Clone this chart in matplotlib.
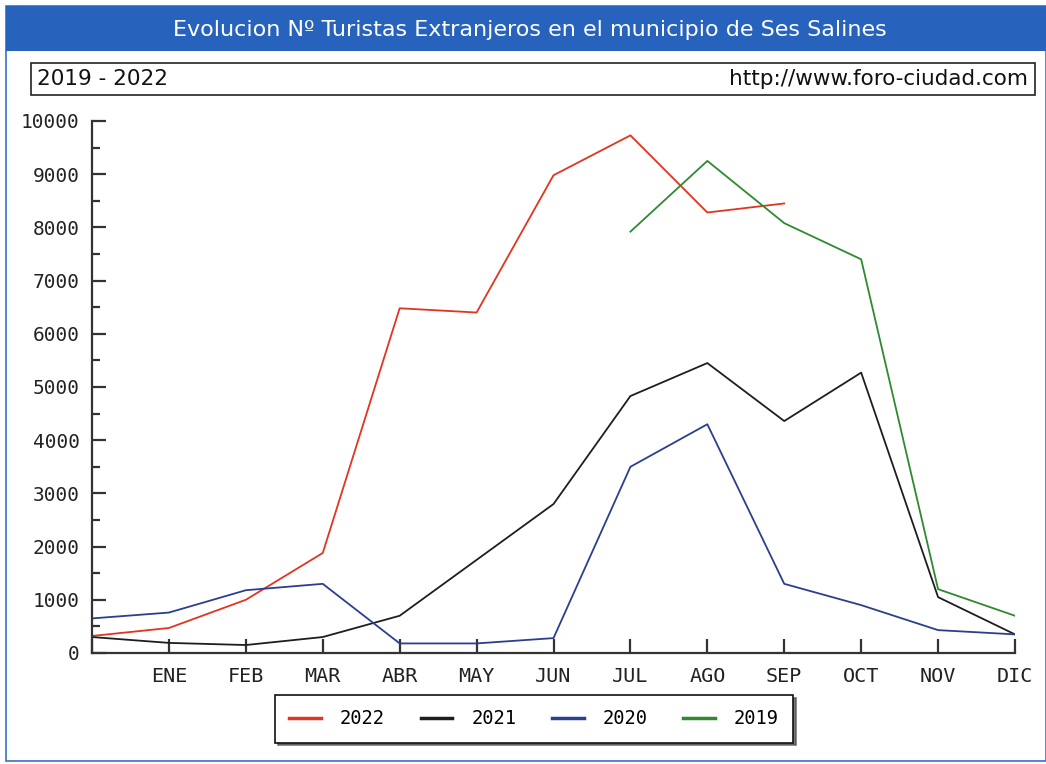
import matplotlib
matplotlib.use("Agg")
import matplotlib.pyplot as plt
from matplotlib.patches import Rectangle
from matplotlib.ticker import MultipleLocator
import numpy as np

months = ['', 'ENE', 'FEB', 'MAR', 'ABR', 'MAY', 'JUN', 'JUL', 'AGO', 'SEP', 'OCT', 'NOV', 'DIC']
v2022 = [320, 470, 1000, 1880, 6480, 6400, 8980, 9730, 8280, 8450, None, None, None]
v2021 = [300, 190, 150, 300, 700, 1750, 2800, 4830, 5450, 4360, 5270, 1050, 350]
v2020 = [650, 760, 1180, 1300, 180, 180, 280, 3500, 4300, 1300, 900, 430, 350]
v2019 = [None, None, None, None, None, None, None, 7920, 9250, 8080, 7400, 1200, 700]
series = [('2022', v2022, '#e2341f'), ('2021', v2021, '#1e1e1e'),
          ('2020', v2020, '#2b3f8e'), ('2019', v2019, '#2f8a2f')]

W, H = 1046, 764
fig = plt.figure(figsize=(W / 100, H / 100), dpi=100)
fig.patch.set_facecolor('white')

def fx(px):
    return px / W

def fy(py):
    return 1 - py / H

# outer blue frame
fig.add_artist(Rectangle((fx(6), fy(761)), 1 - fx(6), fy(6) - fy(761),
                         transform=fig.transFigure, fill=False, edgecolor='#3a6fc8', linewidth=1.2))
# title bar
fig.add_artist(Rectangle((fx(6), fy(51)), 1 - fx(6), fy(6) - fy(51), transform=fig.transFigure,
                         facecolor='#2763bd', edgecolor='none'))
fig.text(fx(530), fy(30), 'Evolucion Nº Turistas Extranjeros en el municipio de Ses Salines',
         color='white', fontsize=16, ha='center', va='center', family='DejaVu Sans')
# subtitle box
fig.add_artist(Rectangle((fx(31), fy(95)), fx(1035 - 31), fy(63) - fy(95), transform=fig.transFigure,
                         facecolor='white', edgecolor='#222222', linewidth=1.2))
fig.text(fx(37), fy(79), '2019 - 2022', color='#111111', fontsize=15.5, ha='left', va='center',
         family='DejaVu Sans')
fig.text(fx(1028), fy(79), 'http://www.foro-ciudad.com', color='#111111', fontsize=15.5,
         ha='right', va='center', family='DejaVu Sans')

ax = fig.add_axes([fx(92), fy(653), fx(1015 - 92), fy(121) - fy(653)])
x = np.arange(len(months))
handles = []
for name, vals, col in series:
    y = np.array([np.nan if v is None else v for v in vals], dtype=float)
    h, = ax.plot(x, y, color=col, linewidth=1.3, label=name)
    handles.append(h)

ax.set_xlim(0, 12)
ax.set_ylim(0, 10000)
ax.set_xticks(x)
ax.set_xticklabels(months)
ax.yaxis.set_major_locator(MultipleLocator(1000))
ax.yaxis.set_minor_locator(MultipleLocator(500))
for s in ['top', 'right']:
    ax.spines[s].set_visible(False)
for s in ['left', 'bottom']:
    ax.spines[s].set_linewidth(1.6)
    ax.spines[s].set_color('#333333')
ax.tick_params(axis='both', which='major', direction='in', length=10, width=1.6, color='#333333',
               labelcolor='#222222')
ax.tick_params(axis='y', which='minor', direction='in', length=6, width=1.6, color='#333333')
ax.tick_params(axis='y', which='major', pad=9, labelsize=14)
ax.tick_params(axis='x', which='major', pad=10, labelsize=14.5)
for lab in ax.get_xticklabels() + ax.get_yticklabels():
    lab.set_family('DejaVu Sans Mono')

leg = fig.legend(handles=handles, loc='center', bbox_to_anchor=(fx(534), fy(719)), ncol=4,
                 frameon=True, fancybox=False, shadow={'color': '#555555', 'alpha': 0.8},
                 edgecolor='#111111', fontsize=13.5, handlelength=1.7, columnspacing=1.9,
                 handletextpad=1.0, borderpad=0.75)
leg.get_frame().set_linewidth(1.2)
for h in leg.legend_handles:
    h.set_linewidth(2.5)
for t in leg.get_texts():
    t.set_family('DejaVu Sans Mono')

fig.savefig('out.png', dpi=100, facecolor='white')
